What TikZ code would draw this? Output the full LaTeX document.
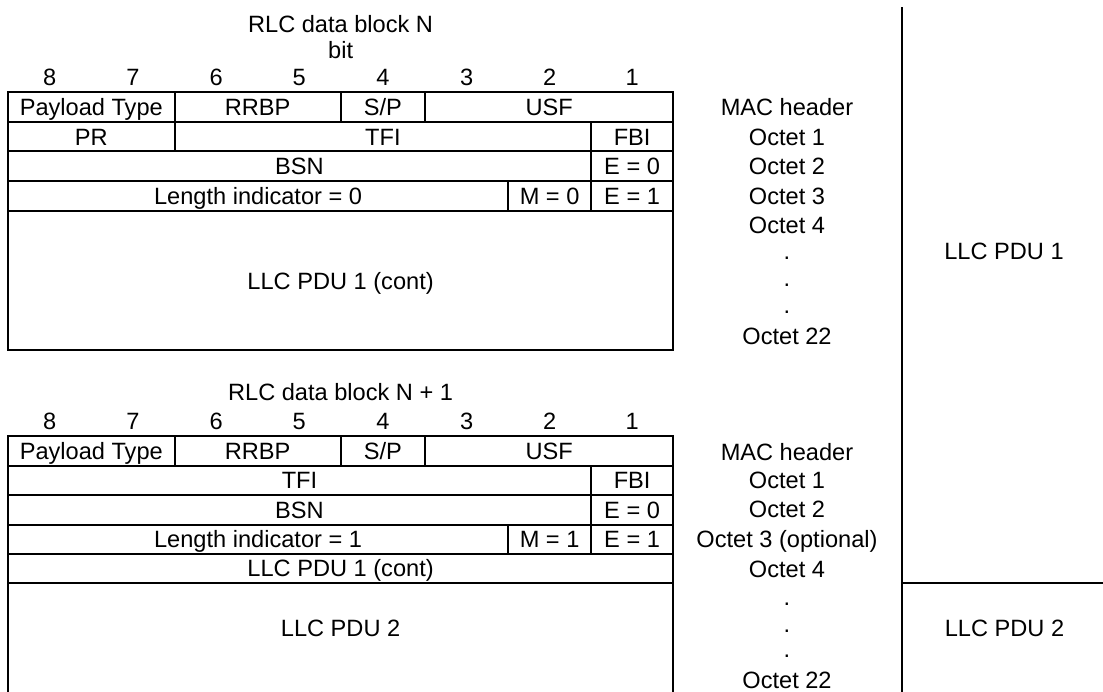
\documentclass[tikz,border=0pt]{standalone}
\usepackage{fontspec}
\setmainfont{Liberation Sans}
\begin{document}
\begin{tikzpicture}[x=1pt,y=-1pt,
  grid/.style={line width=2pt, line cap=rect},
  lbl/.style={anchor=base, inner sep=0pt, font=\fontsize{23.6}{28}\selectfont}]
\useasboundingbox (0,0) rectangle (1103,692);
% ---------- Table 1 ----------
\draw[grid] (8,92) rectangle (673.3,350.5);
\foreach \y in {122,151.5,181,211} \draw[grid] (8,\y) -- (673.3,\y);
\foreach \x in {174.7,340.7,425} \draw[grid] (\x,92) -- (\x,122);
\foreach \x in {174.7,591} \draw[grid] (\x,122) -- (\x,151.5);
\draw[grid] (591,151.5) -- (591,181);
\foreach \x in {508.3,591} \draw[grid] (\x,181) -- (\x,211);
\node[lbl] (t1) at (340.6,33) {RLC data block N};
\node[lbl] (bit1) at (340.6,59) {bit};
\foreach \n/\x in {8/49.6,7/133,6/216.1,5/299.1,4/382.9,3/466.6,2/549.6,1/632.1}
  \node[lbl] (a\n) at (\x,86) {\n};
\node[lbl] (pt1) at (91.3,115.4) {Payload Type};
\node[lbl] (rr1) at (257.7,115.4) {RRBP};
\node[lbl] (sp1) at (382.9,115.4) {S/P};
\node[lbl] (usf1) at (549.1,115.4) {USF};
\node[lbl] (pr1) at (91.3,145.2) {PR};
\node[lbl] (tfi1) at (382.9,145.2) {TFI};
\node[lbl] (fbi1) at (632.1,145.2) {FBI};
\node[lbl] (bsn1) at (299.5,174.6) {BSN};
\node[lbl] (e01) at (632.1,174.6) {E = 0};
\node[lbl] (li1) at (258.1,204.4) {Length indicator = 0};
\node[lbl] (m1) at (549.6,204.4) {M = 0};
\node[lbl] (e11) at (632.1,204.4) {E = 1};
\node[lbl] (llc1) at (340.6,289.1) {LLC PDU 1 (cont)};
% right labels, block N
\node[lbl] (mac1) at (787,115.4) {MAC header};
\node[lbl] (o11) at (787,145.2) {Octet 1};
\node[lbl] (o21) at (787,174.6) {Octet 2};
\node[lbl] (o31) at (787,204.4) {Octet 3};
\node[lbl] (o41) at (787,234) {Octet 4};
\node[lbl] (d11) at (787,260) {.};
\node[lbl] (d21) at (787,287) {.};
\node[lbl] (d31) at (787,314) {.};
\node[lbl] (o221) at (787,345) {Octet 22};
% ---------- Table 2 ----------
\draw[grid] (8,692) -- (8,436) -- (673.3,436) -- (673.3,692);
\foreach \y in {465.5,495,524.5,553.5,582.5} \draw[grid] (8,\y) -- (673.3,\y);
\foreach \x in {174.7,340.7,425} \draw[grid] (\x,436) -- (\x,465.5);
\draw[grid] (591,465.5) -- (591,495);
\draw[grid] (591,495) -- (591,524.5);
\foreach \x in {508.3,591} \draw[grid] (\x,524.5) -- (\x,553.5);
\node[lbl] (t2) at (340.6,401) {RLC data block N + 1};
\foreach \n/\x in {8/49.6,7/133,6/216.1,5/299.1,4/382.9,3/466.6,2/549.6,1/632.1}
  \node[lbl] (b\n) at (\x,429) {\n};
\node[lbl] (pt2) at (91.3,459.2) {Payload Type};
\node[lbl] (rr2) at (257.7,459.2) {RRBP};
\node[lbl] (sp2) at (382.9,459.2) {S/P};
\node[lbl] (usf2) at (549.1,459.2) {USF};
\node[lbl] (tfi2) at (299.5,488.6) {TFI};
\node[lbl] (fbi2) at (632.1,488.6) {FBI};
\node[lbl] (bsn2) at (299.5,518.1) {BSN};
\node[lbl] (e02) at (632.1,518.1) {E = 0};
\node[lbl] (li2) at (258.1,547.4) {Length indicator = 1};
\node[lbl] (m2) at (549.6,547.4) {M = 1};
\node[lbl] (e12) at (632.1,547.4) {E = 1};
\node[lbl] (llcc2) at (340.6,576.4) {LLC PDU 1 (cont)};
\node[lbl] (llc2) at (340.6,636.4) {LLC PDU 2};
% right labels, block N+1
\node[lbl] (mac2) at (787,460.1) {MAC header};
\node[lbl] (o12) at (787,488.4) {Octet 1};
\node[lbl] (o22) at (787,517.4) {Octet 2};
\node[lbl] (o32) at (787,547.4) {Octet 3 (optional)};
\node[lbl] (o42) at (787,577.4) {Octet 4};
\node[lbl] (d12) at (787,605.5) {.};
\node[lbl] (d22) at (787,632) {.};
\node[lbl] (d32) at (787,657) {.};
\node[lbl] (o222) at (787,688.5) {Octet 22};
% ---------- right column ----------
\draw[grid] (901.5,8) -- (901.5,692);
\draw[grid] (901.5,582.5) -- (1103,582.5);
\node[lbl] (pdu1) at (1004,260) {LLC PDU 1};
\node[lbl] (pdu2) at (1004.5,636.4) {LLC PDU 2};
\end{tikzpicture}
\end{document}
